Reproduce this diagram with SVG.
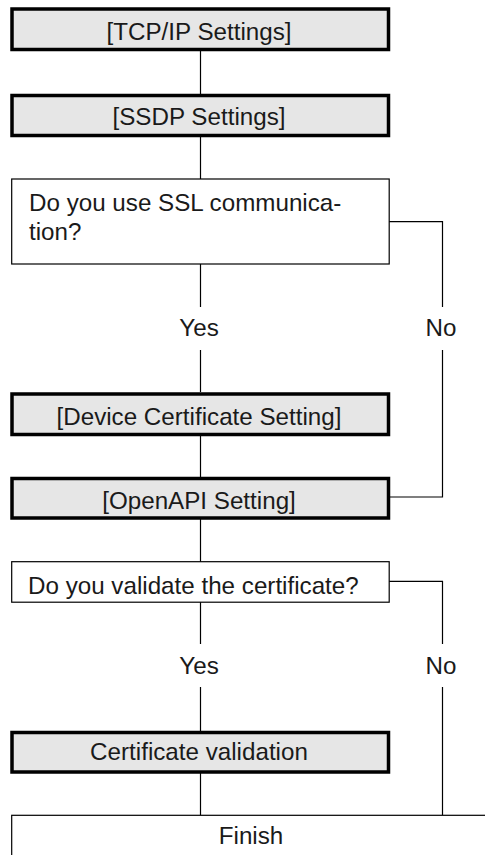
<svg xmlns="http://www.w3.org/2000/svg" width="485" height="855" viewBox="0 0 485 855">
<style>
.step{fill:#e6e6e6;stroke:#000;stroke-width:3.5}
.q{fill:#fff;stroke:#000;stroke-width:1.2}
.t{font-family:"Liberation Sans",Arial,sans-serif;font-size:24.2px;fill:#1a1a1a}
.c{text-anchor:middle}
.ln{fill:none;stroke:#000;stroke-width:1.2}
</style>
<rect width="485" height="855" fill="#fff"/>
<g id="connectors">
<path class="ln" d="M200.5 51 V94"/>
<path class="ln" d="M200.5 137 V179"/>
<path class="ln" d="M200.5 264 V307 M200.5 350 V392"/>
<path class="ln" d="M389 221.7 H442.5 V307 M442.5 350 V497 H390"/>
<path class="ln" d="M200.5 436 V477"/>
<path class="ln" d="M200.5 519 V562"/>
<path class="ln" d="M200.5 602 V644 M200.5 687 V731"/>
<path class="ln" d="M389 581.3 H442.5 V644 M442.5 687 V815"/>
<path class="ln" d="M200.5 773 V815"/>
</g>
<g id="tcpip">
<rect class="step" x="12" y="9" width="376.5" height="40.5"/>
<text class="t c" x="199" y="39.5">[TCP/IP Settings]</text>
</g>
<g id="ssdp">
<rect class="step" x="12" y="95.5" width="376.5" height="40"/>
<text class="t c" x="199" y="124.5">[SSDP Settings]</text>
</g>
<g id="ssl-question">
<rect class="q" x="11.7" y="179" width="377.5" height="85"/>
<text class="t" x="29" y="211">Do you use SSL communica-</text>
<text class="t" x="29" y="239.5">tion?</text>
</g>
<g id="ssl-yes"><text class="t c" x="199" y="336">Yes</text></g>
<g id="ssl-no"><text class="t c" x="441" y="336">No</text></g>
<g id="device-cert">
<rect class="step" x="12" y="394" width="376.5" height="40.5"/>
<text class="t c" x="199" y="424.5">[Device Certificate Setting]</text>
</g>
<g id="openapi">
<rect class="step" x="12" y="478.5" width="376.5" height="39.5"/>
<text class="t c" x="199" y="508.5">[OpenAPI Setting]</text>
</g>
<g id="validate-question">
<rect class="q" x="11.7" y="561.7" width="377.5" height="40.5"/>
<text class="t" x="28" y="593.5">Do you validate the certificate?</text>
</g>
<g id="validate-yes"><text class="t c" x="199" y="673.5">Yes</text></g>
<g id="validate-no"><text class="t c" x="441" y="673.5">No</text></g>
<g id="cert-validation">
<rect class="step" x="12" y="732.5" width="376.5" height="39.5"/>
<text class="t c" x="199" y="760">Certificate validation</text>
</g>
<g id="finish">
<rect class="q" x="11.7" y="815.3" width="490" height="60"/>
<text class="t c" x="251" y="844">Finish</text>
</g>
</svg>
